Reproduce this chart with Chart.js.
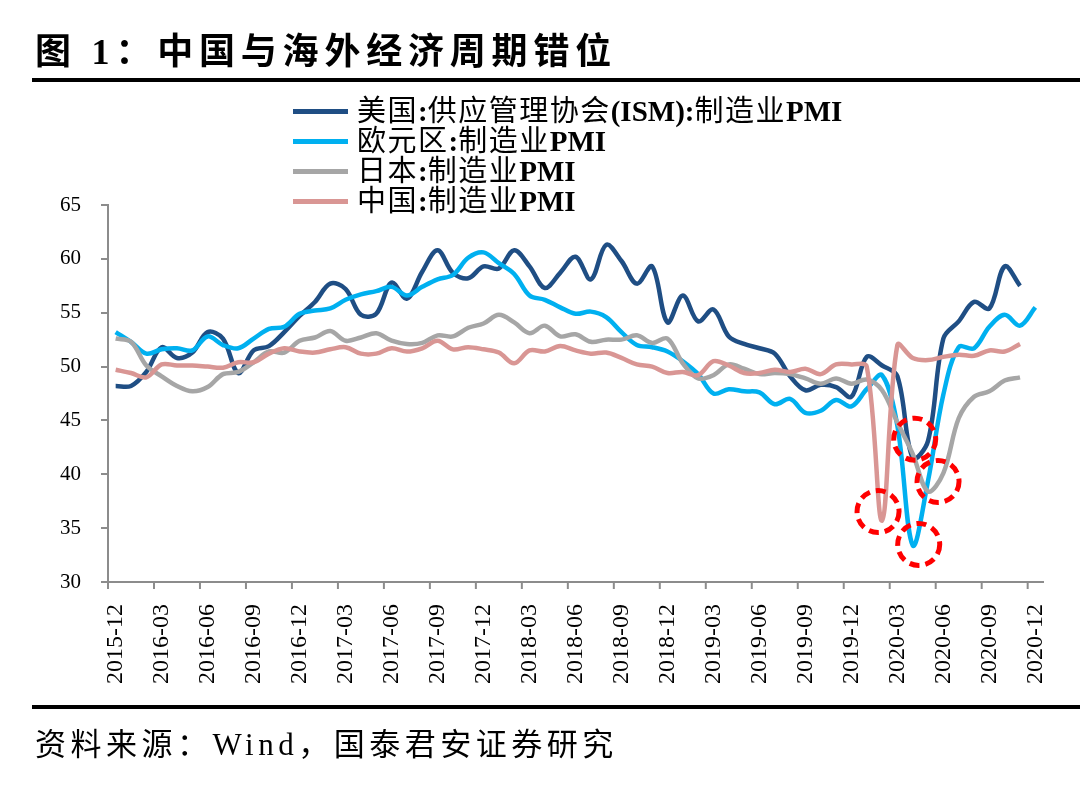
<!DOCTYPE html>
<html>
<head>
<meta charset="utf-8">
<script src="https://cdn.jsdelivr.net/npm/chart.js@4/dist/chart.umd.min.js"></script>
<style>
  body { margin: 0; background: #fff; }
  #wrap { position: relative; width: 1080px; height: 798px; overflow: hidden; }
  canvas { position: absolute; left: 0; top: 0; }
  .title { position: absolute; left: 35px; top: 22px; font: bold 36px "Liberation Serif", "Noto Sans CJK SC"; letter-spacing: 5.8px; color: #000; white-space: nowrap; }
  .rule { position: absolute; left: 32px; right: 0; height: 4px; background: #000; }
  .foot { position: absolute; left: 35px; top: 719px; font: 31px "Liberation Serif", "Noto Sans CJK SC"; letter-spacing: 4.5px; color: #000; white-space: nowrap; }
  #legend { position: absolute; left: 293px; top: 96px; }
  .row { height: 30px; display: flex; align-items: center; white-space: nowrap; }
  .swatch { width: 55px; height: 5px; margin-right: 9px; }
  .lab { font: bold 29px "Liberation Serif", "Noto Sans CJK SC"; color: #000; line-height: 30px; }
  .lab .cjk { font-weight: 400; letter-spacing: 1.5px; }
</style>
</head>
<body>
<div id="wrap">
  <canvas id="c" width="1080" height="798"></canvas>
  <div class="title">图 1：中国与海外经济周期错位</div>
  <div class="rule" style="top:78px"></div>
  <div id="legend"></div>
  <div class="rule" style="top:705px"></div>
  <div class="foot">资料来源：Wind，国泰君安证券研究</div>
</div>
<script>
let months = [
  '2015-12',
  '2016-01','2016-02','2016-03','2016-04','2016-05','2016-06','2016-07','2016-08','2016-09','2016-10','2016-11','2016-12',
  '2017-01','2017-02','2017-03','2017-04','2017-05','2017-06','2017-07','2017-08','2017-09','2017-10','2017-11','2017-12',
  '2018-01','2018-02','2018-03','2018-04','2018-05','2018-06','2018-07','2018-08','2018-09','2018-10','2018-11','2018-12',
  '2019-01','2019-02','2019-03','2019-04','2019-05','2019-06','2019-07','2019-08','2019-09','2019-10','2019-11','2019-12',
  '2020-01','2020-02','2020-03','2020-04','2020-05','2020-06','2020-07','2020-08','2020-09','2020-10','2020-11','2020-12'
]

let tickLabels = ['2015-12','2016-03','2016-06','2016-09','2016-12','2017-03','2017-06','2017-09','2017-12',
  '2018-03','2018-06','2018-09','2018-12','2019-03','2019-06','2019-09','2019-12','2020-03','2020-06','2020-09','2020-12']

let yTicks = [30, 35, 40, 45, 50, 55, 60, 65]

let usPMI = [48.2,
  48.2,49.5,51.8,50.8,51.3,53.2,52.6,49.4,51.5,51.9,53.2,54.7,
  56.0,57.7,57.2,54.8,54.9,57.8,56.3,58.8,60.8,58.7,58.2,59.3,
  59.1,60.8,59.3,57.3,58.7,60.2,58.1,61.3,59.8,57.7,59.3,54.1,
  56.6,54.2,55.3,52.8,52.1,51.7,51.2,49.1,47.8,48.3,48.1,47.2,
  50.9,50.1,49.1,41.5,43.1,52.6,54.2,56.0,55.4,59.3,57.5,null]

let euroPMI = [53.2,
  52.3,51.2,51.6,51.7,51.5,52.8,52.0,51.7,52.6,53.5,53.7,54.9,
  55.2,55.4,56.2,56.7,57.0,57.4,56.6,57.4,58.1,58.5,60.1,60.6,
  59.6,58.6,56.6,56.2,55.5,54.9,55.1,54.6,53.2,52.0,51.8,51.4,
  50.5,49.3,47.5,47.9,47.7,47.6,46.5,47.0,45.7,45.9,46.9,46.3,
  47.9,49.2,44.5,33.4,39.4,47.4,51.8,51.7,53.7,54.8,53.8,55.5]

let japanPMI = [52.6,
  52.3,50.1,49.1,48.2,47.7,48.1,49.3,49.5,50.4,51.4,51.3,52.4,
  52.7,53.3,52.4,52.7,53.1,52.4,52.1,52.2,52.9,52.8,53.6,54.0,
  54.8,54.1,53.1,53.8,52.8,53.0,52.3,52.5,52.5,52.9,52.2,52.6,
  50.3,48.9,49.2,50.2,49.8,49.3,49.4,49.3,48.9,48.4,48.9,48.4,
  48.8,47.8,44.8,41.9,38.4,40.1,45.2,47.2,47.7,48.7,49.0,null]

let chinaPMI = [49.7,
  49.4,49.0,50.2,50.1,50.1,50.0,49.9,50.4,50.4,51.2,51.7,51.4,
  51.3,51.6,51.8,51.2,51.2,51.7,51.4,51.7,52.4,51.6,51.8,51.6,
  51.3,50.3,51.5,51.4,51.9,51.5,51.2,51.3,50.8,50.2,50.0,49.4,
  49.5,49.2,50.5,50.1,49.4,49.4,49.7,49.5,49.8,49.3,50.2,50.2,
  50.0,35.7,52.0,50.8,50.6,50.9,51.1,51.0,51.5,51.4,52.1,null]

let names = ['美国:供应管理协会(ISM):制造业PMI', '欧元区:制造业PMI', '日本:制造业PMI', '中国:制造业PMI']
let colors = ['#1F4E84', '#00B0F0', '#A6A6A6', '#D99694']
let series = [usPMI, euroPMI, japanPMI, chinaPMI]

// troughs marked with red dashed circles: [series, month, dx, dy]
let marks = [[3, '2020-02', -4, -9], [0, '2020-04', 2, -19], [1, '2020-04', 6, -1], [2, '2020-05', 10, -10]]

let legend = document.getElementById('legend')
for (let i = 0; i < names.length; i++) {
  let row = document.createElement('div')
  row.className = 'row'
  let sw = document.createElement('div')
  sw.className = 'swatch'
  sw.style.background = colors[i]
  let lab = document.createElement('span')
  lab.className = 'lab'
  lab.innerHTML = names[i].replace(/([\u4e00-\u9fff]+)/g, '<span class="cjk">$1</span>')
  row.append(sw)
  row.append(lab)
  legend.append(row)
}

let circles = {
  id: 'circles',
  afterDatasetsDraw: function (chart) {
    let ctx = chart.ctx
    ctx.save()
    ctx.strokeStyle = '#FF0000'
    ctx.lineWidth = 5
    ctx.setLineDash([10, 6])
    for (let m of marks) {
      let pt = chart.getDatasetMeta(m[0]).data[months.indexOf(m[1])]
      ctx.beginPath()
      ctx.arc(pt.x + m[2], pt.y + m[3], 21, 0, Math.PI * 2)
      ctx.stroke()
    }
    ctx.restore()
  }
}

// quarterly tick marks, half a month left of each label like the original
let xTickMarks = {
  id: 'xTickMarks',
  afterDraw: function (chart) {
    let x = chart.scales.x
    let ctx = chart.ctx
    let half = (x.getPixelForValue(1) - x.getPixelForValue(0)) / 2
    ctx.save()
    ctx.strokeStyle = '#8C8C8C'
    ctx.lineWidth = 2
    for (let t of tickLabels) {
      let px = x.getPixelForValue(months.indexOf(t)) - half
      ctx.beginPath()
      ctx.moveTo(px, x.top)
      ctx.lineTo(px, x.top + 7)
      ctx.stroke()
    }
    ctx.restore()
  }
}

let datasets = series.map(function (d, i) {
  return {
    label: names[i],
    data: d,
    borderColor: colors[i],
    backgroundColor: colors[i],
    borderWidth: 4.5,
    pointRadius: 0,
    tension: 0.35,
    fill: false,
    order: names.length - i
  }
})

let myChart = new Chart(document.getElementById('c'), {
  type: 'line',
  data: { labels: months, datasets: datasets },
  options: {
    responsive: false,
    animation: false,
    events: [],
    layout: { padding: { left: 48, right: 37, top: 205, bottom: 96 } },
    plugins: { legend: { display: false }, tooltip: { enabled: false } },
    scales: {
      x: {
        type: 'category',
        offset: true,
        afterFit: function (s) { s.height = 120 },
        border: { display: true, color: '#8C8C8C', width: 2 },
        grid: { display: false },
        ticks: {
          autoSkip: false,
          minRotation: 90,
          maxRotation: 90,
          padding: 14,
          color: '#000',
          font: { family: 'Liberation Serif', size: 24 },
          callback: function (v, i) { return tickLabels.includes(months[i]) ? months[i] : null }
        }
      },
      y: {
        min: yTicks[0],
        max: yTicks[yTicks.length - 1],
        afterFit: function (s) { s.width = 60 },
        afterBuildTicks: function (s) { s.ticks = yTicks.map(function (v) { return { value: v } }) },
        border: { color: '#8C8C8C', width: 2 },
        grid: { drawOnChartArea: false, drawTicks: true, tickLength: 7, lineWidth: 2, color: '#8C8C8C' },
        ticks: {
          padding: 20,
          color: '#000',
          font: { family: 'Liberation Serif', size: 21 }
        }
      }
    }
  },
  plugins: [circles, xTickMarks]
})
</script>
</body>
</html>
